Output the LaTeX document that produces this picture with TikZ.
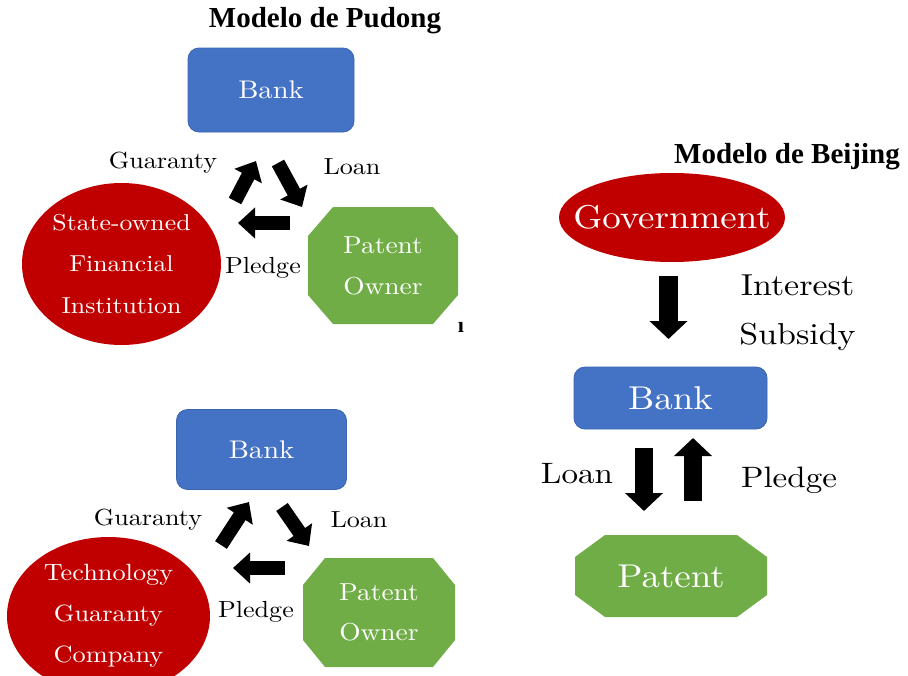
\documentclass[tikz,border=0pt]{standalone}
\usepackage{fontspec}
\setmainfont{lmroman10-regular.otf}[FakeStretch=1.12, BoldFont=lmroman10-bold.otf]
\newfontfamily\titlefont{Liberation Serif}
\usetikzlibrary{shapes.geometric,arrows.meta,backgrounds}
\definecolor{bankblue}{HTML}{4472C4}
\definecolor{bankedge}{HTML}{3A64B0}
\definecolor{ellred}{HTML}{C00000}
\definecolor{octgreen}{HTML}{70AD47}
\tikzset{
  bankbox/.style={draw=bankedge, line width=0.8pt, fill=bankblue, rounded corners=11pt, text=white, inner sep=0pt},
  redell/.style={ellipse, fill=ellred, inner sep=0pt},
  eltext/.style={text=white, inner sep=0pt, align=center},
  greenoct/.style={rectangle, text=white, inner sep=0pt, outer sep=0pt, align=center},
  lbl/.style={inner sep=0pt, text=black},
  blk/.style={line width=14pt, -{Triangle[length=17pt,width=30pt]}},
  blkb/.style={line width=18.5pt, -{Triangle[length=18pt,width=37pt]}},
  ttl/.style={inner sep=0pt, font=\titlefont\bfseries\fontsize{29}{32}\selectfont},
  fs/.style={font=\fontsize{#1}{#1}\selectfont}
}
\newcommand\octfill[3]{%
  \begin{pgfonlayer}{background}
  \fill[octgreen] ([xshift=#2]#1.north west) -- ([xshift=-#2]#1.north east) -- ([yshift=-#3]#1.north east) -- ([yshift=#3]#1.south east) -- ([xshift=-#2]#1.south east) -- ([xshift=#2]#1.south west) -- ([yshift=#3]#1.south west) -- ([yshift=-#3]#1.north west) -- cycle;
  \end{pgfonlayer}}
\begin{document}
\begin{tikzpicture}[x=1pt,y=-1pt]
\useasboundingbox (0,0) rectangle (908,675);
% ---------- Pudong model (top) ----------
\node[ttl] (t1) at (325,21) {Modelo de Pudong};
\node[bankbox, minimum width=166pt, minimum height=84pt, fs=25.5] (bank1) at (271,90) {Bank};
\node[redell, minimum width=199pt, minimum height=162pt] (ell1) at (121.5,264) {};
\node[eltext, font=\fontsize{23}{41.5}\selectfont] (ell1t) at (ell1.center) {State-owned\\Financial\\Institution};
\node[greenoct, minimum width=150pt, minimum height=117pt, font=\fontsize{24.5}{41}\selectfont] (oct1) at (383,265.5) {Patent\\Owner};
\octfill{oct1}{25pt}{29pt}
\node[lbl, fs=23.3] (g1l) at (163,163) {Guaranty};
\node[lbl, fs=23.3] (l1l) at (352,167) {Loan};
\node[lbl, fs=23.3] (p1l) at (263,268) {Pledge};
\node[lbl, font=\titlefont\bfseries\fontsize{22}{24}\selectfont] (stray) at (461,327) {\i};
\coordinate (g1a) at (235,201); \coordinate (g1b) at (256,161);
\coordinate (l1a) at (278,163); \coordinate (l1b) at (302,207);
\coordinate (p1a) at (290,223); \coordinate (p1b) at (238,223);
\draw[blk] (g1a) -- (g1b);
\draw[blk] (l1a) -- (l1b);
\draw[blk] (p1a) -- (p1b);
% ---------- second triangle (bottom) ----------
\node[bankbox, minimum width=170pt, minimum height=80pt, fs=25.5] (bank2) at (261.5,449.5) {Bank};
\begin{scope}
\clip (0,0) rectangle (908,675);
\node[redell, minimum width=203pt, minimum height=158pt] (ell2) at (108.5,616) {};
\end{scope}
\node[eltext, font=\fontsize{23.5}{41}\selectfont] (ell2t) at (ell2.center) {Technology\\Guaranty\\Company};
\node[greenoct, minimum width=152pt, minimum height=109pt, font=\fontsize{24.5}{40}\selectfont] (oct2) at (379,612.5) {Patent\\Owner};
\octfill{oct2}{22pt}{27pt}
\node[lbl, fs=23.3] (g2l) at (148,520) {Guaranty};
\node[lbl, fs=23.3] (l2l) at (359,520) {Loan};
\node[lbl, fs=23.3] (p2l) at (256,612) {Pledge};
\coordinate (g2a) at (221,545); \coordinate (g2b) at (249,502);
\coordinate (l2a) at (282,507); \coordinate (l2b) at (309,546);
\coordinate (p2a) at (285,568); \coordinate (p2b) at (233,568);
\draw[blk] (g2a) -- (g2b);
\draw[blk] (l2a) -- (l2b);
\draw[blk] (p2a) -- (p2b);
% ---------- Beijing model ----------
\node[ttl] (t2) at (787,157) {Modelo de Beijing};
\node[redell, minimum width=226pt, minimum height=89pt] (gov) at (672,217.5) {};
\node[eltext, fs=33] (govt) at (gov.center) {Government};
\node[lbl, fs=30.3] (intl) at (797.5,285) {Interest};
\node[lbl, fs=30.3] (subl) at (797.5,337) {Subsidy};
\node[bankbox, minimum width=193pt, minimum height=62pt, fs=33] (bank3) at (670.5,398) {Bank};
\node[greenoct, minimum width=192pt, minimum height=82pt, fs=33] (pat3) at (671,576) {Patent};
\octfill{pat3}{30pt}{22pt}
\node[lbl, fs=29.5] (l3l) at (577,474) {Loan};
\node[lbl, fs=29.5] (p3l) at (789,480) {Pledge};
\coordinate (d1a) at (668.5,276); \coordinate (d1b) at (668.5,339);
\coordinate (d2a) at (644,448); \coordinate (d2b) at (644,511);
\coordinate (u1a) at (693,501); \coordinate (u1b) at (693,438);
\draw[blkb] (d1a) -- (d1b);
\draw[blkb] (d2a) -- (d2b);
\draw[blkb] (u1a) -- (u1b);
\end{tikzpicture}
\end{document}
